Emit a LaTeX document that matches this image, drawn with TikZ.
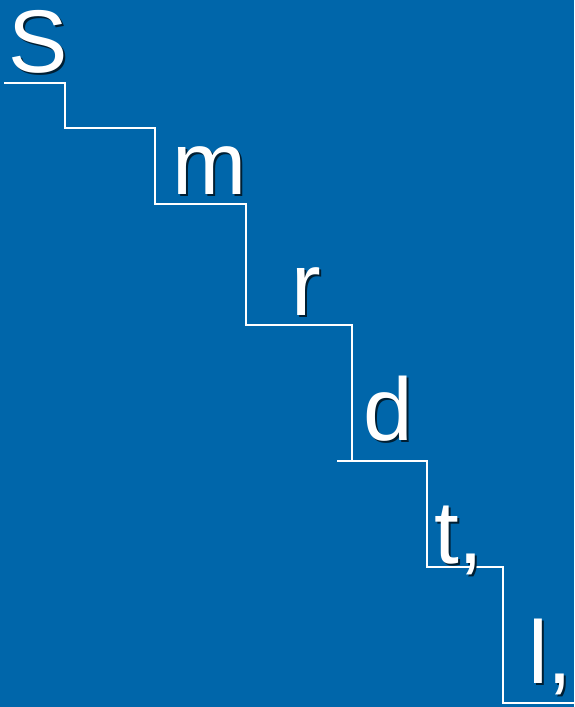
\documentclass[tikz,border=0pt]{standalone}
\usepackage{fontspec}
\setmainfont{Liberation Sans}
\usepackage{tikz}
\usetikzlibrary{positioning}
\definecolor{slideblue}{RGB}{0,102,170}
\colorlet{dropshade}{black!70!slideblue}
% letter with a small drop shadow behind it
\newcommand{\withshade}[1]{\makebox[0pt][l]{\hspace{2pt}\raisebox{-2pt}{\color{dropshade}#1}}#1}

\begin{document}
\begin{tikzpicture}[
  x=1pt,y=-1pt,
  letter/.style={anchor=base west,inner sep=0pt,text=white,
                 font=\fontsize{89}{89}\selectfont},
  stair/.style={white,line width=1.4pt}
]
\fill[slideblue] (0,0) rectangle (574,707);
\useasboundingbox (0,0) rectangle (574,707);
% staircase
\draw[stair] (4,83) -| (65,128) -| (155,204) -| (246,325) -| (352,461);
\draw[stair] (337,461) -| (427,567) -| (503,703) -- (574,703);
% letters
\foreach \t/\x/\y/\n in {S/8/72/s, m/172/194/m, r/291/315/r,
                         d/363/440/d, {t,}/434/563/t, {l,}/528/683/l}{
  \node[letter] (\n) at (\x,\y) {\withshade{\t}};
}
\end{tikzpicture}
\end{document}
